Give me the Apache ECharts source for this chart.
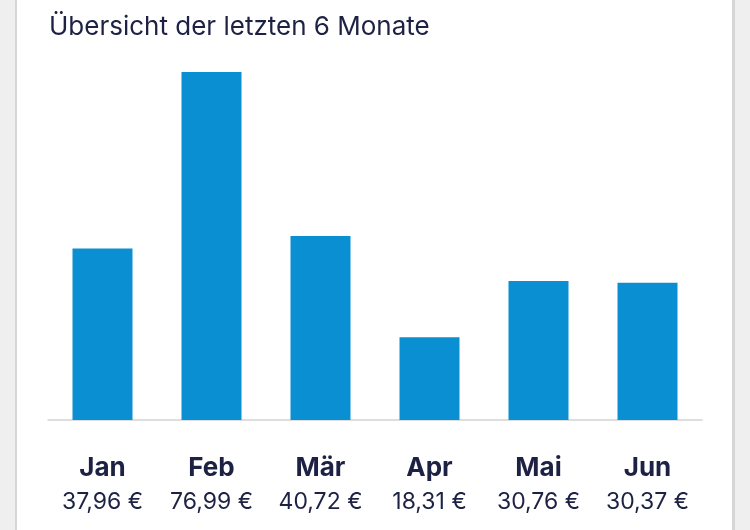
<!DOCTYPE html>
<html>
<head>
<meta charset="utf-8">
<script src="https://cdn.jsdelivr.net/npm/echarts@6/dist/echarts.min.js"></script>
<style>
html,body{margin:0;padding:0;background:#efefef;}
#chart{width:750px;height:530px;}
</style>
</head>
<body>
<div id="chart"></div>
<script>
const titleText = 'Übersicht der letzten 6 Monate';
const categories = ['Jan', 'Feb', 'Mär', 'Apr', 'Mai', 'Jun'];
const values = [37.96, 76.99, 40.72, 18.31, 30.76, 30.37];

const fmt = v => v.toFixed(2).replace('.', ',') + ' €';
const textColor = '#1d2244';
const fontFam = 'Inter, "Liberation Sans", sans-serif';

const chart = echarts.init(document.getElementById('chart'));
chart.setOption({
  backgroundColor: 'transparent',
  animation: false,
  graphic: [
    { type: 'rect', z: -10, silent: true, shape: { x: 15, y: 0, width: 720, height: 530 }, style: { fill: '#d6d6d6' } },
    { type: 'rect', z: -9, silent: true, shape: { x: 17, y: 0, width: 715, height: 530 }, style: { fill: '#ffffff' } }
  ],
  title: {
    text: titleText,
    left: 49,
    top: 14,
    padding: 0,
    textStyle: { color: textColor, fontSize: 26, fontWeight: 'normal', fontFamily: fontFam }
  },
  grid: { left: 48, right: 48, top: 72, bottom: 110, containLabel: false },
  xAxis: {
    type: 'category',
    data: categories,
    axisLine: { show: true, lineStyle: { color: '#d4d4d4', width: 1.5 } },
    axisTick: { show: false },
    axisLabel: {
      margin: 31,
      interval: 0,
      formatter: (val, idx) => '{a|' + val + '}\n{b|' + fmt(values[idx]) + '}',
      rich: {
        a: { fontSize: 26, fontWeight: 'bold', color: textColor, fontFamily: fontFam, lineHeight: 34 },
        b: { fontSize: 23, fontWeight: 'normal', color: textColor, fontFamily: fontFam, lineHeight: 34 }
      }
    }
  },
  yAxis: {
    type: 'value',
    show: false,
    min: 0,
    max: 'dataMax',
    splitLine: { show: false }
  },
  series: [{
    type: 'bar',
    data: values,
    barWidth: 60,
    itemStyle: { color: '#0a8fd3' }
  }]
});
</script>
</body>
</html>
